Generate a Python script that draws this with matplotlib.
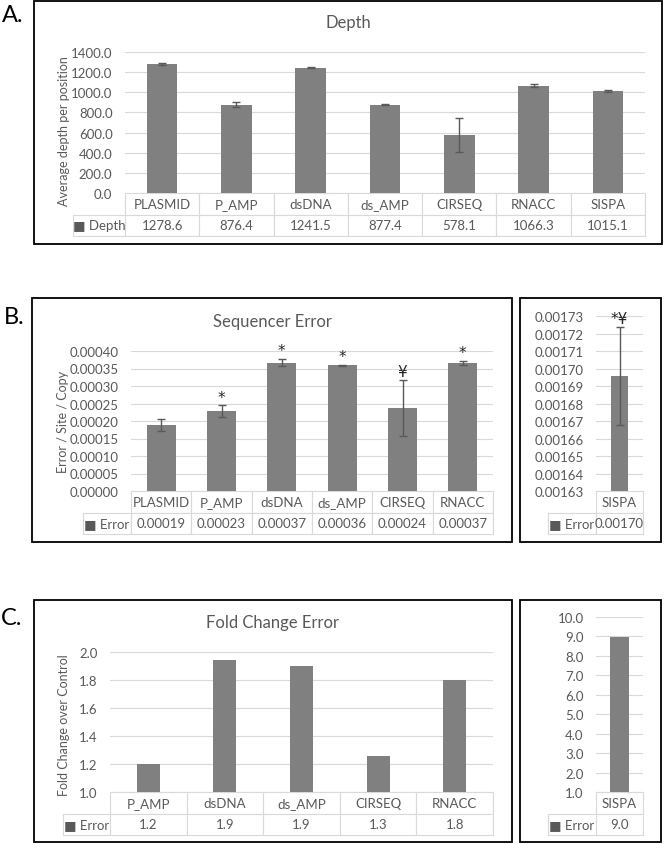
import matplotlib
matplotlib.use('Agg')
import matplotlib.pyplot as plt
from matplotlib.patches import Rectangle

plt.rcParams['font.family'] = ['Lato', 'DejaVu Sans']

W, H = 664, 845
GRAY = '#595959'
BAR = '#808080'
GRID = '#D9D9D9'

# data
depth_cats = ['PLASMID', 'P_AMP', 'dsDNA', 'ds_AMP', 'CIRSEQ', 'RNACC', 'SISPA']
depth_vals = [1278.6, 876.4, 1241.5, 877.4, 578.1, 1066.3, 1015.1]
depth_errs = [8, 25, 5, 3, 168, 18, 12]

seq_cats = ['PLASMID', 'P_AMP', 'dsDNA', 'ds_AMP', 'CIRSEQ', 'RNACC']
seq_vals = [0.000189, 0.000228, 0.000367, 0.000359, 0.000237, 0.000366]
seq_errs = [0.000017, 0.000017, 0.000011, 0.000002, 0.00008, 0.000005]
seq_marks = ['', '*', '*', '*', '¥', '*']

sispa_cats = ['SISPA']
sispa_vals = [0.001696]
sispa_errs = [0.000028]
sispa_marks = ['*¥']

fold_cats = ['P_AMP', 'dsDNA', 'ds_AMP', 'CIRSEQ', 'RNACC']
fold_vals = [1.2, 1.945, 1.897, 1.257, 1.802]
fold_sispa_cats = ['SISPA']
fold_sispa_vals = [8.98]

FS = 9.5


def px_axes(fig, x0, y0, x1, y1):
    return fig.add_axes([x0 / W, 1 - y1 / H, (x1 - x0) / W, (y1 - y0) / H])


def box(fig, x0, y0, x1, y1):
    fig.patches.append(Rectangle((x0 / W, 1 - y1 / H), (x1 - x0) / W, (y1 - y0) / H,
                                 transform=fig.transFigure, fill=False,
                                 edgecolor='black', linewidth=1.3))


def bar_panel(fig, area, leg_x0, cats, vals, errs, ylim, step, tick_fmt,
              series, val_fmt, bar_w, marks=None):
    x0, y0, x1, y1 = area
    ax = px_axes(fig, x0, y0, x1, y1)
    n = len(cats)
    xs = list(range(n))
    ax.bar(xs, vals, width=bar_w, color=BAR, zorder=3)
    if errs is not None:
        ax.errorbar(xs, vals, yerr=errs, fmt='none', ecolor=GRAY, elinewidth=1,
                    capsize=3, capthick=1, zorder=4)
    if marks:
        for x, v, e, m in zip(xs, vals, errs, marks):
            if m:
                ax.annotate(m, (x, v + e), xytext=(0, 0.5), textcoords='offset points',
                            ha='center', va='bottom', fontsize=11, color='#262626',
                            family=['DejaVu Sans'])
    ax.set_xlim(-0.5, n - 0.5)
    ax.set_ylim(*ylim)
    ticks = []
    t = ylim[0]
    while t <= ylim[1] + step * 0.01:
        ticks.append(t)
        t += step
    ax.set_yticks(ticks)
    ax.set_yticklabels([tick_fmt % t for t in ticks])
    ax.set_xticks([])
    ax.tick_params(axis='y', length=0, pad=9, labelsize=FS, labelcolor=GRAY)
    ax.grid(axis='y', color=GRID, linewidth=0.8, zorder=0)
    for s in ax.spines.values():
        s.set_visible(False)

    pw = x1 - x0
    ph = y1 - y0
    lw = x0 - leg_x0
    th = 43
    cell_text = [[''] + cats, ['\u25a0 ' + series] + [val_fmt % v for v in vals]]
    tab = ax.table(cellText=cell_text, cellLoc='center',
                   bbox=[-lw / pw, -th / ph, 1 + lw / pw, th / ph])
    tab.auto_set_font_size(False)
    tab.set_fontsize(FS)
    for (r, c), cell in tab.get_celld().items():
        cell.set_width(lw if c == 0 else pw / n)
        cell.set_edgecolor(GRID)
        cell.set_linewidth(0.8)
        cell.get_text().set_color(GRAY)
    tab[(0, 0)].visible_edges = ''
    return ax


fig = plt.figure(figsize=(W / 100, H / 100), dpi=100)

# A. Depth
box(fig, 34, 2, 662, 245)
bar_panel(fig, (125, 53, 645, 194), 73, depth_cats, depth_vals, depth_errs,
          (0, 1400), 200, '%.1f', 'Depth', '%.1f', 0.41)
fig.text(348 / W, 1 - 23 / H, 'Depth', ha='center', va='center', fontsize=12, color=GRAY)
fig.text(64 / W, 1 - 131 / H, 'Average depth per position', rotation=90,
         ha='center', va='center', fontsize=9, color=GRAY)
fig.text(2 / W, 1 - 16 / H, 'A.', ha='left', va='center', fontsize=17)

# B. Sequencer error
box(fig, 32, 299, 512, 543)
box(fig, 520, 299, 661, 543)
bar_panel(fig, (131, 352, 493, 492), 83, seq_cats, seq_vals, seq_errs,
          (0, 0.0004), 0.00005, '%.5f', 'Error', '%.5f', 0.48, seq_marks)
bar_panel(fig, (596, 317, 643, 492), 548, sispa_cats, sispa_vals, sispa_errs,
          (0.00163, 0.00173), 0.00001, '%.5f', 'Error', '%.5f', 0.38, sispa_marks)
fig.text(272 / W, 1 - 322 / H, 'Sequencer Error', ha='center', va='center',
         fontsize=12, color=GRAY)
fig.text(63 / W, 1 - 422 / H, 'Error / Site / Copy', rotation=90,
         ha='center', va='center', fontsize=9, color=GRAY)
fig.text(4 / W, 1 - 318 / H, 'B.', ha='left', va='center', fontsize=17)

# C. Fold change error
box(fig, 34, 601, 512, 843)
box(fig, 520, 601, 661, 843)
bar_panel(fig, (110, 653, 493, 793), 63, fold_cats, fold_vals, None,
          (1.0, 2.0), 0.2, '%.1f', 'Error', '%.1f', 0.3)
bar_panel(fig, (596, 618, 643, 793), 548, fold_sispa_cats, fold_sispa_vals, None,
          (1.0, 10.0), 1.0, '%.1f', 'Error', '%.1f', 0.4)
fig.text(273 / W, 1 - 623 / H, 'Fold Change Error', ha='center', va='center',
         fontsize=12, color=GRAY)
fig.text(64 / W, 1 - 725 / H, 'Fold Change over Control', rotation=90,
         ha='center', va='center', fontsize=9, color=GRAY)
fig.text(1 / W, 1 - 619 / H, 'C.', ha='left', va='center', fontsize=17)

fig.savefig('out.png', dpi=100)
